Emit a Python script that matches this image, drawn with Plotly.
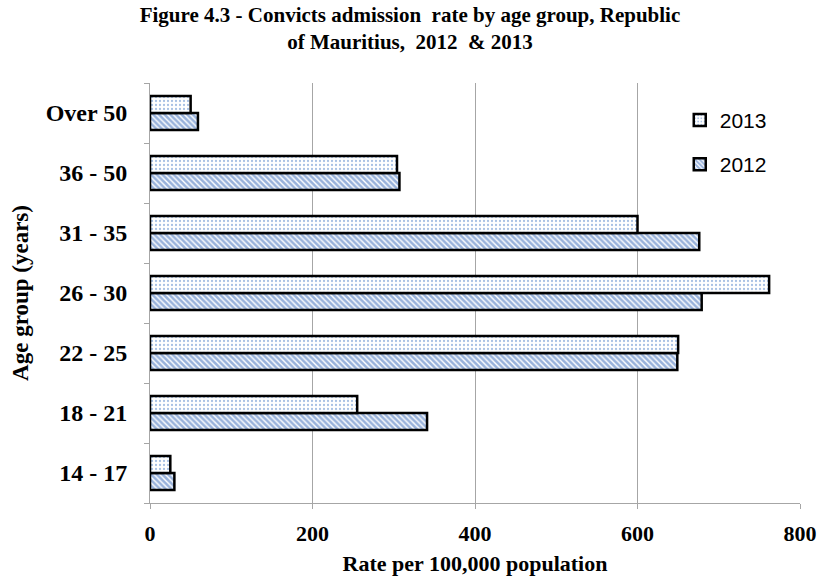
import plotly.graph_objects as go

age_groups = ["14 - 17", "18 - 21", "22 - 25", "26 - 30", "31 - 35", "36 - 50", "Over 50"]
rate_2013 = [25, 255, 650, 762, 600, 304, 50]
rate_2012 = [30, 341, 649, 679, 676, 307, 59]
x_ticks = [0, 200, 400, 600, 800]

SERIF = "Liberation Serif, Times New Roman, serif"
BLUE = "#3366B8"

fig = go.Figure()

# 2012 added first so that it sits below 2013 in each pair
fig.add_trace(go.Bar(
    y=age_groups, x=rate_2012, name="2012", orientation="h",
    legendrank=2, legendgroup="g2012",
    marker=dict(
        color="white",
        line=dict(color="black", width=2.5),
        pattern=dict(shape="\\", fgcolor=BLUE, bgcolor="white", size=4, solidity=0.65),
    ),
))
fig.add_trace(go.Bar(
    y=age_groups, x=rate_2013, name="2013", orientation="h",
    legendrank=1, legendgroup="g2013",
    marker=dict(
        color="white",
        line=dict(color="black", width=2.5),
        pattern=dict(shape=".", fgcolor="#4F81C8", bgcolor="white", size=4, solidity=0.25),
    ),
))

fig.update_layout(
    width=820, height=583,
    margin=dict(l=150, r=20, t=83, b=80),
    paper_bgcolor="white", plot_bgcolor="white",
    barmode="group", bargap=0.43, bargroupgap=0,
    title=dict(
        text="Figure 4.3 - Convicts admission  rate by age group, Republic<br>of Mauritius,  2012  & 2013",
        x=0.5, xanchor="center", y=0.962, yanchor="top",
        font=dict(family=SERIF, size=21, color="black", weight="bold"),
    ),
    legend=dict(
        x=0.815, y=0.96, xanchor="left", yanchor="top",
        tracegroupgap=14, itemwidth=30,
        font=dict(family="Liberation Sans, Arial, sans-serif", size=21, color="black"),
        bgcolor="rgba(0,0,0,0)",
    ),
    showlegend=True,
)

fig.update_xaxes(
    range=[0, 800], tickvals=x_ticks, ticktext=[str(v) for v in x_ticks],
    showgrid=True, gridcolor="#A6A6A6", gridwidth=1,
    showline=True, linecolor="#A6A6A6", linewidth=1,
    ticks="outside", ticklen=5, tickcolor="#A6A6A6",
    tickfont=dict(family=SERIF, size=22, color="black", weight="bold"),
    ticklabelstandoff=6,
    title=dict(text="Rate per 100,000 population", standoff=10,
               font=dict(family=SERIF, size=22, color="black", weight="bold")),
    zeroline=False, automargin=False,
)
fig.update_yaxes(
    categoryorder="array", categoryarray=age_groups,
    showline=True, linecolor="#A6A6A6", linewidth=1,
    ticks="outside", ticklen=5, tickcolor="#A6A6A6", tickson="boundaries",
    tickfont=dict(family=SERIF, size=24, color="black", weight="bold"),
    ticklabelstandoff=17,
    title=dict(text="Age group (years)", standoff=10,
               font=dict(family=SERIF, size=23, color="black", weight="bold")),
    showgrid=False, automargin=False,
)

# drop the default 8px body margin so the figure fills the window
fig.write_html("out.html", config={"displayModeBar": False},
               post_script="document.body.style.margin='0';")
